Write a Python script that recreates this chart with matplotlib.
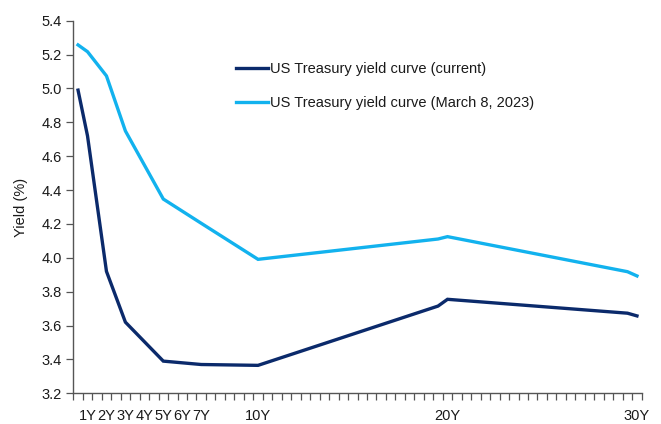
import matplotlib
matplotlib.use("Agg")
import matplotlib.pyplot as plt
import numpy as np

plt.rcParams['font.family'] = ['Liberation Sans', 'DejaVu Sans']

# Data (maturity in years, yield in %)
mat_current = [0.5, 1, 2, 3, 5, 7, 10, 19.5, 20, 29.5, 30]
yld_current = [4.99, 4.72, 3.92, 3.62, 3.39, 3.37, 3.365, 3.715, 3.755, 3.673, 3.657]

mat_march = [0.5, 1, 2, 3, 5, 7, 10, 19.5, 20, 29.5, 30]
yld_march = [5.257, 5.217, 5.074, 4.749, 4.347, 4.204, 3.991, 4.111, 4.125, 3.918, 3.893]

tick_pos = [1, 2, 3, 4, 5, 6, 7, 10, 20, 30]
tick_labels = ["1Y", "2Y", "3Y", "4Y", "5Y", "6Y", "7Y", "10Y", "20Y", "30Y"]

label_current = "US Treasury yield curve (current)"
label_march = "US Treasury yield curve (March 8, 2023)"

dark = "#0B2A6B"
light = "#12B2EE"
axis_col = "#555555"
text_col = "#1a1a1a"
fs = 10.5

fig = plt.figure(figsize=(6.61, 4.24), dpi=100)
ax = fig.add_axes([73.3/661, 1-393.3/424, (641.7-73.3)/661, (393.3-20.7)/424])

ax.plot(mat_current, yld_current, color=dark, lw=2.4, label=label_current, solid_joinstyle='miter')
ax.plot(mat_march, yld_march, color=light, lw=2.4, label=label_march, solid_joinstyle='miter')

ax.set_xlim(0.25, 30.25)
ax.set_ylim(3.2, 5.4)
ax.set_yticks(np.arange(3.2, 5.41, 0.2))
ax.set_yticklabels([f"{v:.1f}" for v in np.arange(3.2, 5.41, 0.2)])

ax.set_xticks(tick_pos)
ax.set_xticklabels(tick_labels)
ax.set_xticks(np.arange(0.25, 30.26, 0.5), minor=True)
ax.tick_params(axis='x', which='major', length=0, pad=11, labelsize=fs, labelcolor=text_col)
ax.tick_params(axis='x', which='minor', length=5, width=0.9, color=axis_col, direction='out')
ax.tick_params(axis='y', which='major', length=5, width=0.9, color=axis_col, direction='out',
               labelsize=fs, labelcolor=text_col, pad=3)

for s in ['top', 'right']:
    ax.spines[s].set_visible(False)
for s in ['left', 'bottom']:
    ax.spines[s].set_color(axis_col)
    ax.spines[s].set_linewidth(1.0)

ax.set_ylabel("Yield (%)", fontsize=fs, color=text_col, labelpad=10)

leg = fig.legend(loc='upper left', bbox_to_anchor=(236/661, 1-62/424), frameon=False,
                 fontsize=fs, handlelength=2.2, handletextpad=0.15, labelspacing=1.4,
                 borderpad=0, borderaxespad=0)
for t in leg.get_texts():
    t.set_color(text_col)

fig.savefig("out.png", dpi=100)
